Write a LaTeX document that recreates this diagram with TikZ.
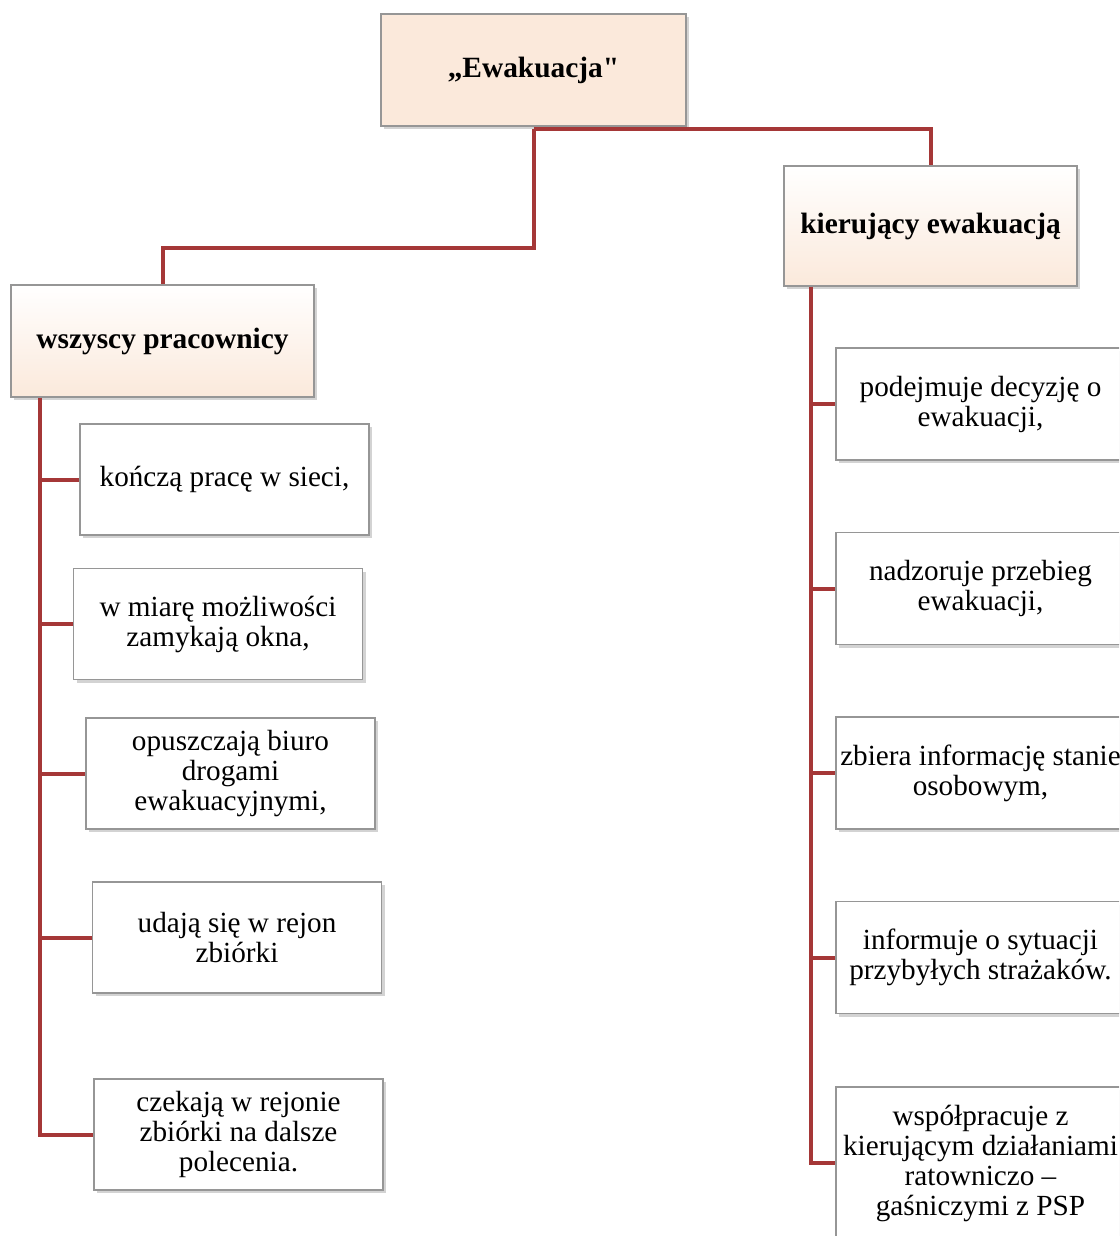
\documentclass[tikz,border=0pt]{standalone}
\usepackage{fontspec}
\setmainfont{Liberation Serif}
\usetikzlibrary{shadows}
\definecolor{CcLine}{RGB}{165,55,55}
\definecolor{CcPeach}{RGB}{251,233,219}
\definecolor{CcEdge}{RGB}{150,150,150}
\tikzset{
bshadow/.style={opacity=.35, shadow xshift=1.5pt, shadow yshift=-1.5pt},
mybox/.style={draw=CcEdge, line width=0.6pt, fill=white, drop shadow={bshadow},
  inner sep=0pt, align=center, font=\fontsize{14.6}{15}\selectfont,
  minimum width=144.5pt, minimum height=55.5pt},
headbox/.style={mybox, top color=white, bottom color=CcPeach,
  font=\fontsize{14.7}{16}\selectfont\bfseries},
topbox/.style={mybox, fill=CcPeach, font=\fontsize{14.7}{16}\selectfont\bfseries},
link/.style={draw=CcLine, line width=2pt},
}

\begin{document}
\begin{tikzpicture}[x=0.5pt, y=-0.5pt]
\useasboundingbox (0,0) rectangle (1119,1236);
\clip (0,0) rectangle (1119,1236);

%% top
\node[topbox, minimum width=152.5pt, minimum height=56pt] (ewak) at (533.5,70)
  {„Ewakuacja{\addfontfeature{Ligatures=TeXOff}"}};

%% heads
\node[headbox, minimum width=151.5pt, minimum height=56pt] (wsz) at (162.5,341) {wszyscy pracownicy};
\node[headbox, minimum width=146.5pt, minimum height=60pt] (kier) at (930.5,226) {kierujący ewakuacją};

%% left column
\node[mybox] (l1) at (224.5,479.5) {kończą pracę w sieci,};
\node[mybox] (l2) at (218,624) {w miarę możliwości\\zamykają okna,};
\node[mybox] (l3) at (230.5,773.5) {opuszczają biuro\\drogami\\ewakuacyjnymi,};
\node[mybox] (l4) at (237,937.5) {udają się w rejon\\zbiórki};
\node[mybox] (l5) at (238.5,1134.5) {czekają w rejonie\\zbiórki na dalsze\\polecenia.};

%% right column
\node[mybox, minimum height=56pt] (r1) at (980.5,404) {podejmuje decyzję o\\ewakuacji,};
\node[mybox, minimum height=56pt] (r2) at (980.5,588.5) {nadzoruje przebieg\\ewakuacji,};
\node[mybox, minimum height=56pt] (r3) at (980.5,773) {zbiera informację stanie\\osobowym,};
\node[mybox, minimum height=56pt] (r4) at (980.5,957.5) {informuje o sytuacji\\przybyłych strażaków.};
\node[mybox, minimum height=76pt] (r5) at (980.5,1163) {współpracuje z\\kierującym działaniami\\ratowniczo –\\gaśniczymi z PSP};

% --------------------------------------------------------
%% connectors
\coordinate (split) at ([yshift=-1pt]ewak.south);
\draw[link] (split) -| (kier.north);
\draw[link] (split) -- ++(0,119) -| (wsz.north);

\coordinate (ltop) at ([xshift=15pt]wsz.south west);
\draw[link] (ltop) |- (l5.west);
\foreach \i in {1,...,4}
  \draw[link] (ltop |- l\i.west) -- (l\i.west);

\coordinate (rtop) at ([xshift=14pt]kier.south west);
\draw[link] (rtop) |- (r5.west);
\foreach \i in {1,...,4}
  \draw[link] (rtop |- r\i.west) -- (r\i.west);
\end{tikzpicture}
\end{document}
